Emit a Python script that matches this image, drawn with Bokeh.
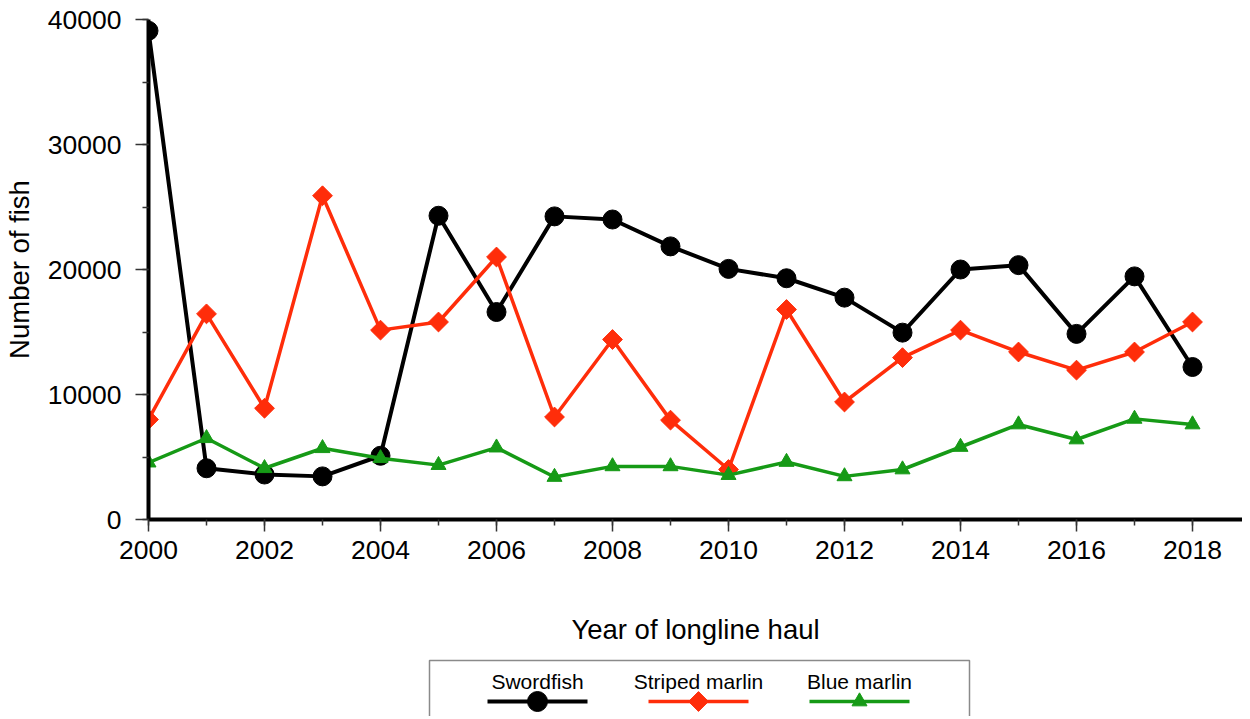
from bokeh.plotting import figure
from bokeh.models import Range1d, SingleIntervalTicker
from bokeh.layouts import column
from bokeh.core.properties import value
from bokeh.embed import file_html
from bokeh.resources import INLINE
import numpy as np

years = list(range(2000, 2019))
swordfish = [39100, 4100, 3600, 3450, 5100, 24300, 16600, 24250, 24000, 21850,
             20050, 19300, 17750, 14950, 20000, 20350, 14850, 19450, 12200]
striped_marlin = [8000, 16450, 8900, 25900, 15150, 15800, 21000, 8200, 14400, 7950,
                  4000, 16800, 9400, 12950, 15150, 13400, 11950, 13400, 15800]
blue_marlin = [4550, 6500, 4100, 5700, 4900, 4350, 5750, 3400, 4250, 4250,
               3550, 4600, 3450, 4000, 5800, 7600, 6400, 8050, 7600]
series_names = ["Swordfish", "Striped marlin", "Blue marlin"]
x_label = "Year of longline haul"
y_label = "Number of fish"

BLACK = "#000000"
RED = "#ff2d0a"
GREEN = "#169a16"
FONT = "Liberation Sans"

W = 1234
LEFT = 140
TOP = 19
FW = W - LEFT
FH = 500
MAIN_H = 652
p = figure(width=W, height=MAIN_H, frame_width=FW, frame_height=FH,
           output_backend="svg", toolbar_location=None,
           x_range=Range1d(2000, 2000 + FW / 58.0), y_range=Range1d(0, 40000),
           min_border_left=LEFT, min_border_top=TOP,
           min_border_bottom=MAIN_H - TOP - FH, min_border_right=0)
p.outline_line_color = None
p.xgrid.grid_line_color = None
p.ygrid.grid_line_color = None
p.background_fill_color = "white"
p.border_fill_color = "white"

p.xaxis.ticker = SingleIntervalTicker(interval=2, num_minor_ticks=2)
p.yaxis.ticker = SingleIntervalTicker(interval=10000, num_minor_ticks=2)
for ax in (p.xaxis[0], p.yaxis[0]):
    ax.axis_line_width = 4
    ax.axis_line_color = "black"
    ax.major_tick_in = 0
    ax.minor_tick_in = 0
    ax.major_tick_line_width = 1.5
    ax.minor_tick_line_width = 1.5
    ax.major_tick_line_color = "#333333"
    ax.minor_tick_line_color = "#333333"
    ax.major_label_text_font = FONT
    ax.major_label_text_font_size = "26.5px"
    ax.major_label_text_color = "black"
    ax.axis_label_text_font = FONT
    ax.axis_label_text_font_size = "27.5px"
    ax.axis_label_text_font_style = "normal"
    ax.axis_label_text_color = "black"
p.xaxis.major_tick_out = 12
p.xaxis.minor_tick_out = 6
p.yaxis.major_tick_out = 13
p.yaxis.minor_tick_out = 6
p.xaxis.major_label_standoff = 9
p.yaxis.major_label_standoff = 14
p.xaxis.axis_label = x_label
p.yaxis.axis_label = y_label
p.xaxis.axis_label_standoff = 52
p.yaxis.axis_label_standoff = 10

# series
p.line(years, swordfish, line_color=BLACK, line_width=4)
p.scatter(years, swordfish, marker="circle", size=19, fill_color=BLACK, line_color=BLACK)
p.line(years, striped_marlin, line_color=RED, line_width=3.5)
p.scatter(years, striped_marlin, marker="square", angle=np.pi / 4, size=14,
          fill_color=RED, line_color=RED)
p.line(years, blue_marlin, line_color=GREEN, line_width=3.5)
p.scatter(years, blue_marlin, marker="triangle", size=15, fill_color=GREEN, line_color=GREEN)

# custom legend (text above sample); coordinates in page pixels
LH = 64
top = MAIN_H
leg = figure(width=W, height=LH, frame_width=FW, frame_height=LH,
             output_backend="svg", toolbar_location=None,
             x_range=Range1d(8 + LEFT, 8 + W), y_range=Range1d(top + LH, top),
             min_border_left=LEFT, min_border_right=0,
             min_border_top=0, min_border_bottom=0)
leg.axis.visible = False
leg.grid.visible = False
leg.outline_line_color = None
leg.background_fill_color = "white"
leg.border_fill_color = "white"
leg.quad(left=[429], right=[969], top=[660], bottom=[740],
         fill_color="white", line_color="#8a8a8a", line_width=1.5)
centers = [537, 698, 859]
colors = [BLACK, RED, GREEN]
markers = ["circle", "square", "triangle"]
sizes = [20, 14, 15]
angles = [0, np.pi / 4, 0]
lws = [4, 3.5, 3.5]
for c, col, mk, sz, ang, lw, name in zip(centers, colors, markers, sizes, angles, lws, series_names):
    leg.line([c - 50, c + 50], [701, 701], line_color=col, line_width=lw)
    leg.scatter([c], [701], marker=mk, size=sz, angle=ang, fill_color=col, line_color=col)
    leg.text([c], [681], text=[name], text_align="center", text_baseline="middle",
             text_font=value(FONT), text_font_size="21px", text_color="black")

layout = column(p, leg, spacing=0)
open("out.html", "w").write(file_html(layout, INLINE))
